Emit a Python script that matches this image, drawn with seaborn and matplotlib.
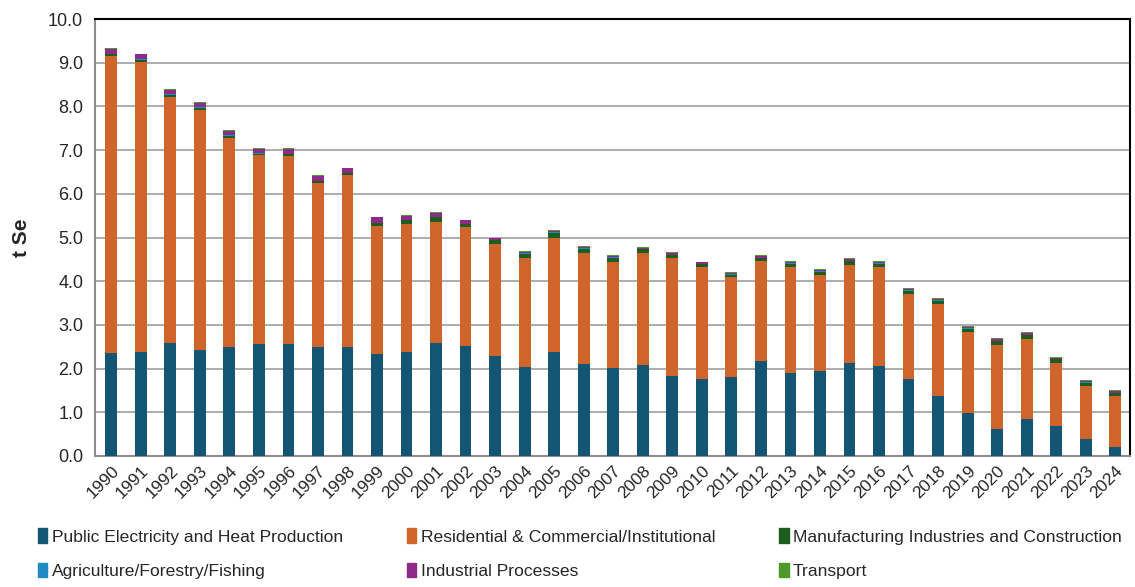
import numpy as np
import pandas as pd
import seaborn as sns
import matplotlib.pyplot as plt

years = list(range(1990, 2025))

public = [2.35, 2.38, 2.58, 2.42, 2.50, 2.57, 2.57, 2.50, 2.50, 2.33,
          2.38, 2.58, 2.52, 2.28, 2.03, 2.38, 2.10, 2.02, 2.08, 1.83,
          1.77, 1.80, 2.18, 1.90, 1.95, 2.13, 2.05, 1.77, 1.38, 0.98,
          0.62, 0.85, 0.68, 0.40, 0.20]
residential = [6.80, 6.64, 5.64, 5.50, 4.78, 4.31, 4.30, 3.75, 3.92, 2.94,
               2.94, 2.78, 2.71, 2.57, 2.49, 2.60, 2.54, 2.43, 2.57, 2.69,
               2.56, 2.30, 2.29, 2.43, 2.19, 2.25, 2.28, 1.93, 2.09, 1.86,
               1.93, 1.83, 1.44, 1.20, 1.17]
manufacturing = [0.05, 0.05, 0.05, 0.05, 0.05, 0.04, 0.04, 0.04, 0.05, 0.06,
                 0.07, 0.10, 0.08, 0.09, 0.11, 0.13, 0.10, 0.09, 0.08, 0.08,
                 0.06, 0.05, 0.06, 0.07, 0.08, 0.08, 0.07, 0.08, 0.08, 0.07,
                 0.08, 0.09, 0.09, 0.08, 0.07]
agriculture = [0.01, 0.01, 0.01, 0.01, 0.01, 0.01, 0.01, 0.01, 0.01, 0.01,
               0.01, 0.01, 0.01, 0.01, 0.01, 0.01, 0.01, 0.01, 0.01, 0.01,
               0.01, 0.01, 0.01, 0.01, 0.01, 0.01, 0.01, 0.01, 0.01, 0.01,
               0.01, 0.01, 0.01, 0.01, 0.01]
industrial = [0.10, 0.11, 0.10, 0.09, 0.09, 0.10, 0.10, 0.10, 0.10, 0.12,
              0.10, 0.10, 0.07, 0.03, 0.03, 0.03, 0.03, 0.03, 0.03, 0.03,
              0.03, 0.03, 0.03, 0.03, 0.03, 0.03, 0.03, 0.03, 0.03, 0.03,
              0.03, 0.03, 0.03, 0.03, 0.03]
transport = [0.02, 0.02, 0.02, 0.02, 0.02, 0.02, 0.02, 0.02, 0.02, 0.02,
             0.02, 0.02, 0.02, 0.02, 0.02, 0.02, 0.02, 0.02, 0.02, 0.02,
             0.02, 0.02, 0.02, 0.02, 0.02, 0.02, 0.02, 0.02, 0.02, 0.02,
             0.02, 0.02, 0.02, 0.02, 0.02]

sectors = [
    ("Public Electricity and Heat Production", public, "#145573"),
    ("Residential & Commercial/Institutional", residential, "#D0652C"),
    ("Manufacturing Industries and Construction", manufacturing, "#1B5E20"),
    ("Agriculture/Forestry/Fishing", agriculture, "#1E8BC3"),
    ("Industrial Processes", industrial, "#8E2A8A"),
    ("Transport", transport, "#4C9A2A"),
]

sns.set_style("white")
plt.rcParams["font.family"] = ["Liberation Sans", "DejaVu Sans"]

fig = plt.figure(figsize=(11.35, 5.87), dpi=100)
ax = fig.add_axes([0.0837, 0.2232, 0.9119, 0.7444])

labels = [str(y) for y in years]
bottom = np.zeros(len(years))
handles = {}
for name, vals, col in sectors:
    df = pd.DataFrame({"year": labels, "value": vals})
    sns.barplot(data=df, x="year", y="value", order=labels, color=col,
                saturation=1, width=0.4, bottom=bottom, ax=ax, errorbar=None,
                linewidth=0, zorder=3)
    handles[name] = plt.Rectangle((0, 0), 1, 1, color=col)
    bottom = bottom + np.array(vals)

ax.set_ylim(0, 10)
ax.set_xlim(-0.55, 34.41)
ax.set_yticks(np.arange(0, 10.01, 1.0))
ax.set_yticklabels([f"{v:.1f}" for v in np.arange(0, 10.01, 1.0)], fontsize=13)
ax.set_xticks(range(len(years)))
ax.set_xticklabels(labels, rotation=45, ha="right", rotation_mode="anchor", fontsize=12.5)
ax.set_xticks(np.arange(-0.5, len(years), 1.0), minor=True)
ax.tick_params(axis="x", which="major", length=0, pad=5)
ax.tick_params(axis="x", which="minor", length=5, color="#A6A6A6", width=1.2)
ax.tick_params(axis="y", length=5, color="#A6A6A6", width=1.2)
ax.set_xlabel("")
ax.set_ylabel("t Se", fontsize=15, fontweight="bold", labelpad=12)
ax.yaxis.grid(True, color="#A6A6A6", linewidth=1.3, zorder=0)
ax.set_axisbelow(True)
for s in ["left", "bottom"]:
    ax.spines[s].set_color("#8C8C8C")
    ax.spines[s].set_linewidth(1.5)
for s in ["top", "right"]:
    ax.spines[s].set_color("black")
    ax.spines[s].set_linewidth(1.5)

order = ["Public Electricity and Heat Production", "Agriculture/Forestry/Fishing",
         "Residential & Commercial/Institutional", "Industrial Processes",
         "Manufacturing Industries and Construction", "Transport"]
fig.legend([handles[n] for n in order], order, loc="upper left",
           bbox_to_anchor=(0.027, 0.112), ncol=3, frameon=False,
           fontsize=12.6, handlelength=0.55, handleheight=0.9, handletextpad=0.25,
           columnspacing=3.65, labelspacing=1.05, borderaxespad=0)

fig.savefig("out.png", dpi=100)
